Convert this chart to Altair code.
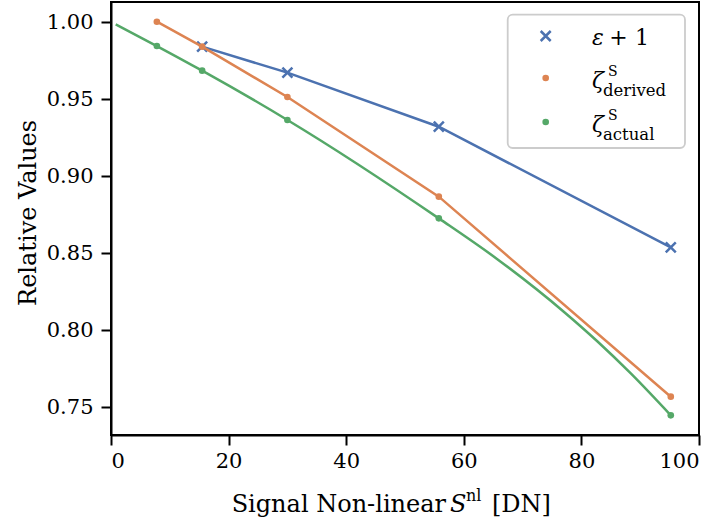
import altair as alt
import pandas as pd

# ---- data ----
x_eps = [15.5, 30.0, 55.75, 95.2]
eps_plus_1 = [0.9838, 0.9669, 0.9318, 0.8535]

x_zeta = [7.8, 15.5, 30.0, 55.75, 95.2]
zeta_derived = [1.000, 0.9838, 0.9511, 0.8864, 0.7565]
zeta_actual = [0.9842, 0.9682, 0.9362, 0.8723, 0.7444]

x_curve = [0.8, 7.8, 15.5, 30.0, 55.75, 65.7, 77.0, 82.7, 88.4, 95.2]
actual_curve = [0.9983, 0.9842, 0.9682, 0.9362, 0.8723, 0.8458, 0.8117, 0.7925, 0.7716, 0.7444]

x_ticks = [0, 20, 40, 60, 80, 100]
y_ticks = [0.75, 0.80, 0.85, 0.90, 0.95, 1.00]

BLUE, ORANGE, GREEN = "#4C72B0", "#DD8452", "#55A868"
FONT = "DejaVu Serif, Liberation Serif, serif"
OX, OY = 111, 2  # view origin in page pixels

df_eps = pd.DataFrame({"x": x_eps, "y": eps_plus_1})
df_der = pd.DataFrame({"x": x_zeta, "y": zeta_derived})
df_act = pd.DataFrame({"x": x_zeta, "y": zeta_actual})
df_curve = pd.DataFrame({"x": x_curve, "y": actual_curve})

xs = alt.Scale(domain=[0, 100], nice=False, zero=False)
ys = alt.Scale(domain=[0.73162, 1.01279], nice=False, zero=False)

X = alt.X("x:Q", scale=xs, axis=alt.Axis(values=x_ticks, format="d", title=None))
Y = alt.Y("y:Q", scale=ys, axis=alt.Axis(
    values=y_ticks, format=".2f", title="Relative Values",
    titleFont=FONT, titleFontSize=24, titleFontWeight="normal", titleColor="black",
    titleAngle=270, titleX=35 - OX, titleY=210.4, titleAlign="center",
    titleBaseline="alphabetic"))

XSHAPE = "M-1,-1L1,1M-1,1L1,-1"

blue_line = alt.Chart(df_eps).mark_line(color=BLUE, strokeWidth=2.5).encode(x=X, y=Y)
blue_pts = alt.Chart(df_eps).mark_point(shape=XSHAPE, filled=False, color=BLUE,
                                        strokeWidth=2.5, size=100, opacity=1).encode(x=X, y=Y)
orange_line = alt.Chart(df_der).mark_line(color=ORANGE, strokeWidth=2.5).encode(x=X, y=Y)
orange_pts = alt.Chart(df_der).mark_circle(color=ORANGE, size=44, opacity=1).encode(x=X, y=Y)
green_line = alt.Chart(df_curve).mark_line(color=GREEN, strokeWidth=2.5,
                                           interpolate="monotone").encode(x=X, y=Y)
green_pts = alt.Chart(df_act).mark_circle(color=GREEN, size=44, opacity=1).encode(x=X, y=Y)

one = pd.DataFrame({"a": [0]})


def txt(s, px, py, size, style="normal", align="left"):
    return alt.Chart(one).mark_text(
        text=s, font=FONT, fontSize=size, fontStyle=style, align=align,
        baseline="alphabetic", color="black"
    ).encode(x=alt.value(px - OX), y=alt.value(py - OY))


# legend box
legend_box = alt.Chart(one).mark_rect(
    fill="white", fillOpacity=0.8, stroke="#cccccc", strokeWidth=1.8, cornerRadius=5
).encode(x=alt.value(507.7 - OX), x2=alt.value(685 - OX),
         y=alt.value(14.7 - OY), y2=alt.value(148 - OY))

leg_blue = alt.Chart(one).mark_point(shape=XSHAPE, filled=False, color=BLUE,
                                     strokeWidth=2.5, size=100, opacity=1).encode(
    x=alt.value(545.7 - OX), y=alt.value(36 - OY))
leg_orange = alt.Chart(one).mark_circle(color=ORANGE, size=44, opacity=1).encode(
    x=alt.value(545.7 - OX), y=alt.value(78 - OY))
leg_green = alt.Chart(one).mark_circle(color=GREEN, size=44, opacity=1).encode(
    x=alt.value(545.7 - OX), y=alt.value(122 - OY))

legend_texts = [
    txt("ε", 592, 45.3, 22, "italic"),
    txt("+", 618.5, 45.3, 22, align="center"),
    txt("1", 635, 45.3, 22),
    txt("ζ", 592, 88, 22, "italic"),
    txt("S", 608, 75.5, 14),
    txt("derived", 603, 96, 16.5),
    txt("ζ", 592, 132, 22, "italic"),
    txt("S", 608, 119.5, 14),
    txt("actual", 603, 140, 16.5),
]

xtitle = [
    txt("Signal Non-linear", 446, 511.7, 24, align="right"),
    txt("S", 450, 511.7, 24, "italic"),
    txt("nl", 466, 500.5, 16),
    txt("[DN]", 492, 511.7, 24),
]

chart = alt.layer(
    blue_line, blue_pts, orange_line, orange_pts, green_line, green_pts,
    legend_box, leg_blue, leg_orange, leg_green, *legend_texts, *xtitle
).properties(
    width=588, height=433,
    autosize=alt.AutoSizeParams(type="none"),
    padding={"left": OX, "top": OY, "right": 21, "bottom": 94},
    background="white",
).configure_view(
    stroke="black", strokeWidth=2
).configure_axis(
    grid=False, labelFont=FONT, labelFontSize=21, labelColor="black",
    tickColor="black", tickWidth=2, tickSize=10, domainColor="black", domainWidth=2,
    labelPadding=8
).configure_axisX(labelPadding=5).configure_axisY(labelOffset=1)

chart.save("out.html", embed_options={"renderer": "svg", "actions": False})
